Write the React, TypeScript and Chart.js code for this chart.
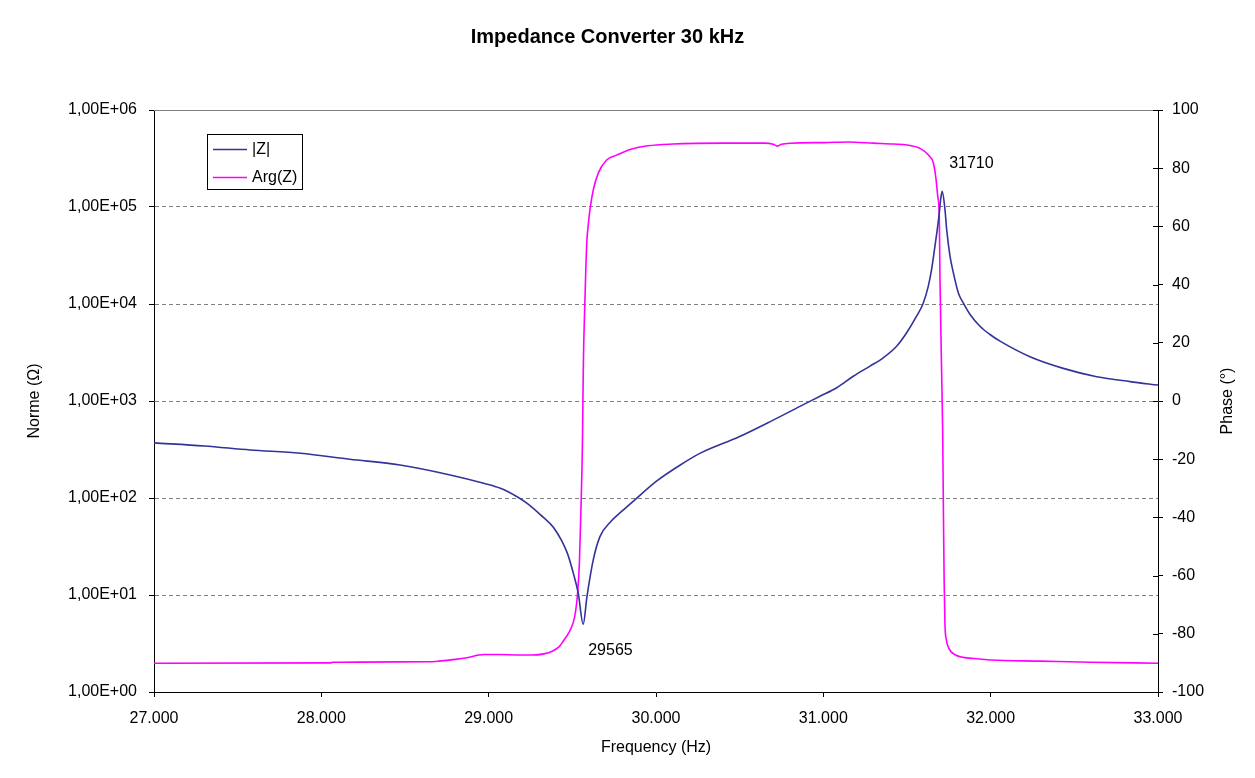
import React, { useEffect, useRef } from 'react';
import { Chart, registerables } from 'chart.js';

Chart.register(...registerables);

const chartTitle = 'Impedance Converter 30 kHz';
const xAxisTitle = 'Frequency (Hz)';
const leftAxisTitle = 'Norme (Ω)';
const rightAxisTitle = 'Phase (°)';

const zLabel = '|Z|';
const phaseLabel = 'Arg(Z)';

// |Z| (Ohm) vs frequency (Hz)
const zFreq = [
  27000, 27300, 27575, 27875, 28170, 28470, 28770, 28970, 29070, 29170, 29230, 29310, 29390,
  29470, 29505, 29535, 29565, 29587, 29625, 29665, 29725, 29800, 29865, 30005, 30145, 30265,
  30500, 30700, 30860, 30980, 31080, 31179, 31279, 31358, 31438, 31498, 31557, 31597, 31627,
  31647, 31667, 31681, 31693, 31701, 31710, 31727, 31737, 31757, 31777, 31807, 31837, 31877,
  31936, 31996, 32056, 32235, 32434, 32634, 32833, 33000,
];
const zMag = [
  370, 344, 313, 289, 251, 219, 173, 142, 126, 103, 88, 67, 49,
  27, 17, 10.5, 5.0, 9.5, 23, 40, 56, 74, 93, 150, 219, 290,
  430, 635, 880, 1120, 1370, 1800, 2290, 2790, 3670, 5050, 7480, 10200, 15200,
  22700, 39400, 58700, 87000, 119000, 145000, 94000, 58700, 31100, 21000, 13000, 10200, 7800,
  5900, 4850, 4140, 2860, 2170, 1780, 1585, 1460,
];

// Arg(Z) (degrees) vs frequency (Hz)
const phaseFreq = [
  27000, 28050, 28070, 28640, 28700, 28800, 28870, 28940, 28970, 29070, 29180, 29266, 29330,
  29380, 29420, 29446, 29480, 29506, 29520, 29530, 29542, 29550, 29560, 29566, 29576, 29586,
  29596, 29606, 29625, 29655, 29705, 29765, 29850, 29950, 30100, 30400, 30650, 30700, 30725,
  30750, 30800, 31000, 31150, 31300, 31420, 31500, 31578, 31628, 31658, 31674, 31684, 31693,
  31697, 31707, 31713, 31718, 31722, 31727, 31735, 31750, 31790, 31900, 32000, 32300, 32600,
  33000,
];
const phaseDeg = [
  -90.1, -90.0, -89.8, -89.6, -89.4, -88.8, -88.2, -87.3, -87.1, -87.1, -87.3, -87.3, -86.9,
  -86.0, -84.5, -82.5, -79.5, -76, -72, -67, -56, -40, -16, 13, 36, 54,
  61, 66, 72.5, 78.3, 82.8, 84.5, 86.5, 87.7, 88.3, 88.6, 88.6, 88.2, 87.6,
  88.2, 88.6, 88.8, 89.0, 88.6, 88.3, 88.0, 86.8, 84.5, 81.7, 76, 70.2, 63.4,
  42.7, 9.6, -10, -40, -62, -77, -82, -85, -87.3, -88.5, -89.0, -89.4, -89.8,
  -90.1,
];

const xTickValues = [27000, 28000, 29000, 30000, 31000, 32000, 33000];
const xTickLabels = ['27.000', '28.000', '29.000', '30.000', '31.000', '32.000', '33.000'];
const zTickValues = [1, 10, 100, 1000, 10000, 100000, 1000000];
const zTickLabels = ['1,00E+00', '1,00E+01', '1,00E+02', '1,00E+03', '1,00E+04', '1,00E+05', '1,00E+06'];
const phaseTickValues = [-100, -80, -60, -40, -20, 0, 20, 40, 60, 80, 100];

// data labels on |Z| extremes
const annotationFreq = [29565, 31710];
const annotationValue = [5.0, 145000];
const annotationText = ['29565', '31710'];

const FONT = '"Liberation Sans", Arial, Helvetica, sans-serif';
const Z_COLOR = '#333399';
const P_COLOR = '#ff00ff';

const decorPlugin = {
  id: 'decor',
  beforeDraw(chart: any) {
    const ctx = chart.ctx;
    ctx.save();
    ctx.fillStyle = '#ffffff';
    ctx.fillRect(0, 0, chart.width, chart.height);
    ctx.restore();
  },
  afterDraw(chart: any) {
    const { ctx, chartArea } = chart;
    const xs = chart.scales.x;
    const yz = chart.scales.yZ;
    const yp = chart.scales.yP;
    ctx.save();
    // plot area top border
    ctx.strokeStyle = '#808080';
    ctx.lineWidth = 1;
    ctx.beginPath();
    ctx.moveTo(chartArea.left, chartArea.top + 0.5);
    ctx.lineTo(chartArea.right, chartArea.top + 0.5);
    ctx.stroke();
    // right axis inner tick halves (cross ticks)
    ctx.strokeStyle = '#000000';
    for (const v of phaseTickValues) {
      const y = Math.round(yp.getPixelForValue(v)) + 0.5;
      ctx.beginPath();
      ctx.moveTo(chartArea.right - 5, y);
      ctx.lineTo(chartArea.right, y);
      ctx.stroke();
    }
    // right axis title, reading bottom to top
    ctx.save();
    ctx.translate(1228, (chartArea.top + chartArea.bottom) / 2);
    ctx.rotate(-Math.PI / 2);
    ctx.fillStyle = '#000000';
    ctx.font = `16px ${FONT}`;
    ctx.textAlign = 'center';
    ctx.textBaseline = 'middle';
    ctx.fillText(rightAxisTitle, 0, 0);
    ctx.restore();

    // legend
    const lx = chartArea.left + 53;
    const ly = chartArea.top + 24;
    const lw = 95;
    const lh = 55;
    ctx.fillStyle = '#ffffff';
    ctx.fillRect(lx, ly, lw, lh);
    ctx.strokeStyle = '#000000';
    ctx.lineWidth = 1;
    ctx.strokeRect(lx + 0.5, ly + 0.5, lw, lh);
    ctx.font = `16px ${FONT}`;
    ctx.textAlign = 'left';
    ctx.textBaseline = 'middle';
    chart.data.datasets.forEach((ds: any, i: number) => {
      const yy = ly + 15.5 + i * 28;
      ctx.strokeStyle = ds.borderColor;
      ctx.lineWidth = 1.6;
      ctx.beginPath();
      ctx.moveTo(lx + 6, yy);
      ctx.lineTo(lx + 40, yy);
      ctx.stroke();
      ctx.fillStyle = '#000000';
      ctx.fillText(ds.label, lx + 45, yy);
    });

    // data labels
    ctx.font = `16px ${FONT}`;
    ctx.fillStyle = '#000000';
    ctx.textAlign = 'left';
    ctx.textBaseline = 'alphabetic';
    annotationFreq.forEach((f, i) => {
      const px = xs.getPixelForValue(f);
      const py = yz.getPixelForValue(annotationValue[i]);
      if (i === 0) ctx.fillText(annotationText[i], px + 5, py + 31);
      else ctx.fillText(annotationText[i], px + 7, py - 23);
    });
    ctx.restore();
  },
};

export default function App() {
  const canvasRef = useRef<HTMLCanvasElement | null>(null);

  useEffect(() => {
    if (!canvasRef.current) return;
    const zData = zFreq.map((f, i) => ({ x: f, y: zMag[i] }));
    const pData = phaseFreq.map((f, i) => ({ x: f, y: phaseDeg[i] }));

    const chart = new Chart(canvasRef.current, {
      type: 'line',
      data: {
        datasets: [
          {
            label: zLabel,
            data: zData,
            yAxisID: 'yZ',
            borderColor: Z_COLOR,
            backgroundColor: Z_COLOR,
            borderWidth: 1.6,
            pointRadius: 0,
            cubicInterpolationMode: 'monotone',
            fill: false,
          },
          {
            label: phaseLabel,
            data: pData,
            yAxisID: 'yP',
            borderColor: P_COLOR,
            backgroundColor: P_COLOR,
            borderWidth: 1.6,
            pointRadius: 0,
            cubicInterpolationMode: 'monotone',
            fill: false,
          },
        ],
      },
      options: {
        responsive: false,
        animation: false,
        events: [],
        layout: { padding: { top: 0, left: 0, right: 40, bottom: 0 } },
        plugins: {
          legend: { display: false },
          tooltip: { enabled: false },
          title: {
            display: true,
            text: chartTitle,
            color: '#000000',
            font: { family: FONT, size: 20, weight: 'bold' },
            padding: { top: 25, bottom: 61 },
          },
        },
        scales: {
          x: {
            type: 'linear',
            position: 'bottom',
            min: 27000,
            max: 33000,
            afterFit: (s: any) => {
              s.height = 86;
            },
            afterBuildTicks: (s: any) => {
              s.ticks = xTickValues.map((v) => ({ value: v }));
            },
            ticks: {
              color: '#000000',
              font: { family: FONT, size: 16 },
              padding: 12,
              maxRotation: 0,
              callback: (v: any) => {
                const i = xTickValues.indexOf(Number(v));
                return i >= 0 ? xTickLabels[i] : '';
              },
            },
            grid: {
              drawOnChartArea: false,
              drawTicks: true,
              tickLength: 5,
              tickColor: '#000000',
            },
            border: { display: true, color: '#000000', width: 1 },
            title: {
              display: true,
              text: xAxisTitle,
              color: '#000000',
              font: { family: FONT, size: 16 },
              padding: { top: 0, bottom: 21 },
            },
          },
          yZ: {
            type: 'logarithmic',
            position: 'left',
            min: 1,
            max: 1000000,
            afterFit: (s: any) => {
              s.width = 154;
            },
            afterBuildTicks: (s: any) => {
              s.ticks = zTickValues.map((v) => ({ value: v }));
            },
            ticks: {
              color: '#000000',
              font: { family: FONT, size: 16 },
              padding: 12,
              callback: (v: any) => {
                const i = zTickValues.indexOf(Number(v));
                return i >= 0 ? zTickLabels[i] : '';
              },
            },
            grid: {
              drawOnChartArea: true,
              drawTicks: true,
              tickLength: 5,
              tickColor: '#000000',
              lineWidth: 1,
              color: (ctx: any) => {
                const v = ctx.tick ? ctx.tick.value : 0;
                return v === 1 || v === 1000000 ? 'rgba(0,0,0,0)' : '#808080';
              },
            },
            border: { display: true, color: '#000000', width: 1, dash: [4, 3] },
            title: {
              display: true,
              text: leftAxisTitle,
              color: '#000000',
              font: { family: FONT, size: 16 },
              padding: { top: 25, bottom: 0 },
            },
          },
          yP: {
            type: 'linear',
            position: 'right',
            min: -100,
            max: 100,
            afterFit: (s: any) => {
              s.width = 57;
            },
            afterBuildTicks: (s: any) => {
              s.ticks = phaseTickValues.map((v) => ({ value: v }));
            },
            ticks: {
              color: '#000000',
              font: { family: FONT, size: 16 },
              padding: 9,
            },
            grid: {
              drawOnChartArea: false,
              drawTicks: true,
              tickLength: 5,
              tickColor: '#000000',
            },
            border: { display: true, color: '#000000', width: 1 },
          },
        },
      } as any,
      plugins: [decorPlugin],
    });
    return () => chart.destroy();
  }, []);

  return (
    <div style={{ position: 'fixed', left: 0, top: 0, width: 1255, height: 778, background: '#ffffff' }}>
      <canvas ref={canvasRef} width={1255} height={778} style={{ width: 1255, height: 778 }} />
    </div>
  );
}
